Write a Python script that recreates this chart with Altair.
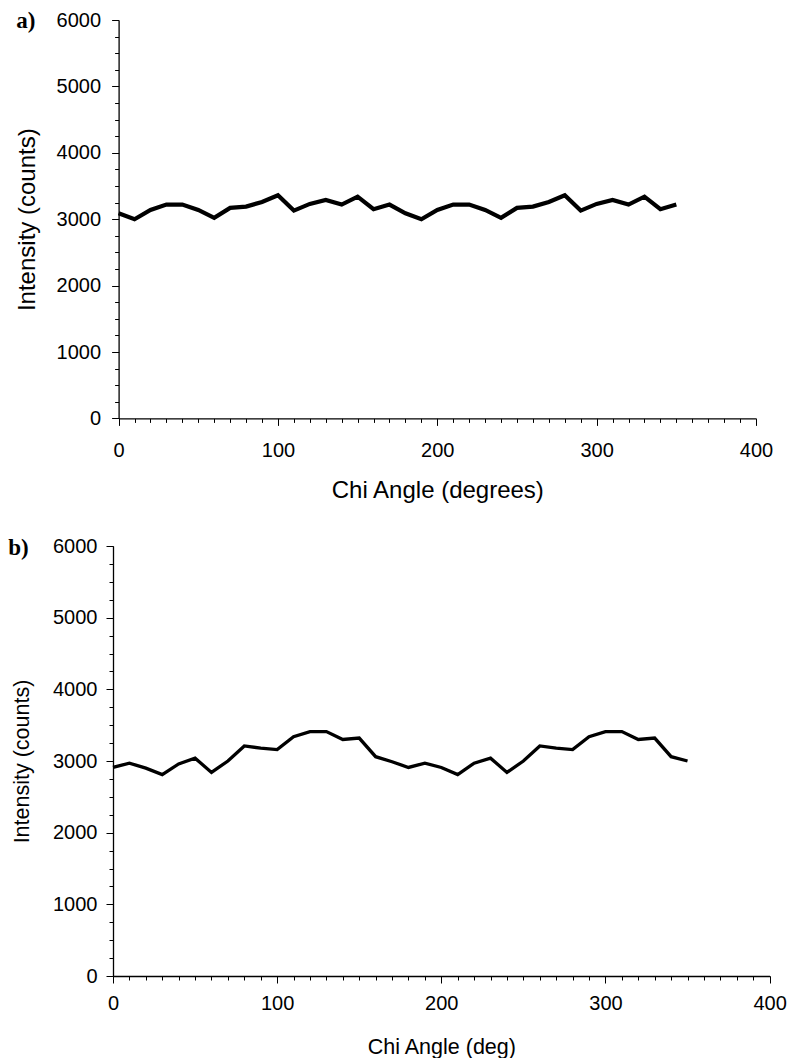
import altair as alt
import pandas as pd

# ---- data ----
chi_a = [0, 10, 20, 30, 40, 50, 60, 70, 80, 90, 100, 110, 120, 130, 140, 150, 160, 170,
         180, 190, 200, 210, 220, 230, 240, 250, 260, 270, 280, 290, 300, 310, 320, 330, 340, 350]
intensity_a = [3090, 3000, 3140, 3220, 3220, 3140, 3020, 3170, 3190, 3260, 3360, 3130,
               3230, 3290, 3220, 3340, 3150, 3220, 3090, 3000, 3140, 3220, 3220, 3140,
               3020, 3170, 3190, 3260, 3360, 3130, 3230, 3290, 3220, 3340, 3150, 3220]

chi_b = [0, 10, 20, 30, 40, 50, 60, 70, 80, 90, 100, 110, 120, 130, 140, 150, 160, 170,
         180, 190, 200, 210, 220, 230, 240, 250, 260, 270, 280, 290, 300, 310, 320, 330, 340, 350]
intensity_b = [2910, 2970, 2900, 2810, 2960, 3040, 2840, 3000, 3210, 3180, 3160, 3340,
               3410, 3410, 3300, 3320, 3060, 2990, 2910, 2970, 2910, 2810, 2970, 3040,
               2840, 3000, 3210, 3180, 3160, 3340, 3410, 3410, 3300, 3320, 3060, 3000]

x_major = [0, 100, 200, 300, 400]
x_minor = list(range(0, 401, 10))
y_major = [0, 1000, 2000, 3000, 4000, 5000, 6000]
y_minor = list(range(0, 6001, 250))

FONT = "Liberation Sans"


def panel(chi, inten, w, h, shift, stroke, x_title, tfs, x_lp, y_lp, x_title_y, y_title_x,
          label, label_x, label_y):
    df = pd.DataFrame({"chi": chi, "intensity": inten})
    xs = alt.Scale(domain=[0, 400], nice=False, zero=False, range=[shift, w])
    ys = alt.Scale(domain=[0, 6000], nice=False)
    base = alt.Chart(df)
    line = base.mark_line(color="black", strokeWidth=stroke).encode(
        x=alt.X("chi:Q", scale=xs, title=x_title,
                axis=alt.Axis(values=x_major, orient="bottom", tickSize=7, labelPadding=x_lp,
                              labelFlush=False, format="d",
                              titleY=x_title_y, titleBaseline="alphabetic",
                              titleFontSize=tfs, domainWidth=1.3)),
        y=alt.Y("intensity:Q", scale=ys, title="Intensity (counts)",
                axis=alt.Axis(values=y_major, orient="left", tickSize=7, labelPadding=y_lp,
                              offset=-shift, format="d",
                              titleX=y_title_x, titleBaseline="middle",
                              titleFontSize=tfs, domainWidth=1.3)),
    )
    minor = base.mark_line(opacity=0).encode(
        x=alt.X("chi:Q", scale=xs, title=None,
                axis=alt.Axis(values=x_minor, orient="bottom", tickSize=4, labels=False,
                              domain=False)),
        y=alt.Y("intensity:Q", scale=ys, title=None,
                axis=alt.Axis(values=y_minor, orient="left", tickSize=4, labels=False,
                              domain=False, offset=-shift)),
    )
    lab_df = pd.DataFrame({"t": [label]})
    lab = alt.Chart(lab_df).mark_text(
        font="Liberation Serif", fontWeight="bold", fontSize=23, align="left",
        baseline="middle", color="black"
    ).encode(text="t:N", x=alt.value(label_x), y=alt.value(label_y))
    return alt.layer(line, minor, lab).resolve_axis(x="independent", y="independent").properties(
        width=w, height=h)


# panel a: plot area 118.3..755.7 ; panel b: 112.7..769.3 (shared group origin = 112.7)
pa = panel(chi_a, intensity_a, 643.0, 398.4, 5.6, 4.2, "Chi Angle (degrees)", 24, 15, 11, 79,
           -91.3, "a)", -96.7, 0.7)
pb = panel(chi_b, intensity_b, 656.6, 430, 0, 3.3, "Chi Angle (deg)", 21.5, 10, 9, 77, -90.7,
           "b)", -104.7, 2)

chart = alt.concat(pa, pb, columns=1, spacing=33).properties(
    padding={"left": 8, "top": 9, "right": 0, "bottom": 0}
).configure_view(strokeWidth=0).configure_axis(
    labelFont=FONT, titleFont=FONT, labelFontSize=20, labelColor="black",
    titleColor="black", titleFontWeight="normal", domainColor="black", tickColor="black",
    grid=False
)

chart.save("out.html", embed_options={"renderer": "svg", "actions": False})
